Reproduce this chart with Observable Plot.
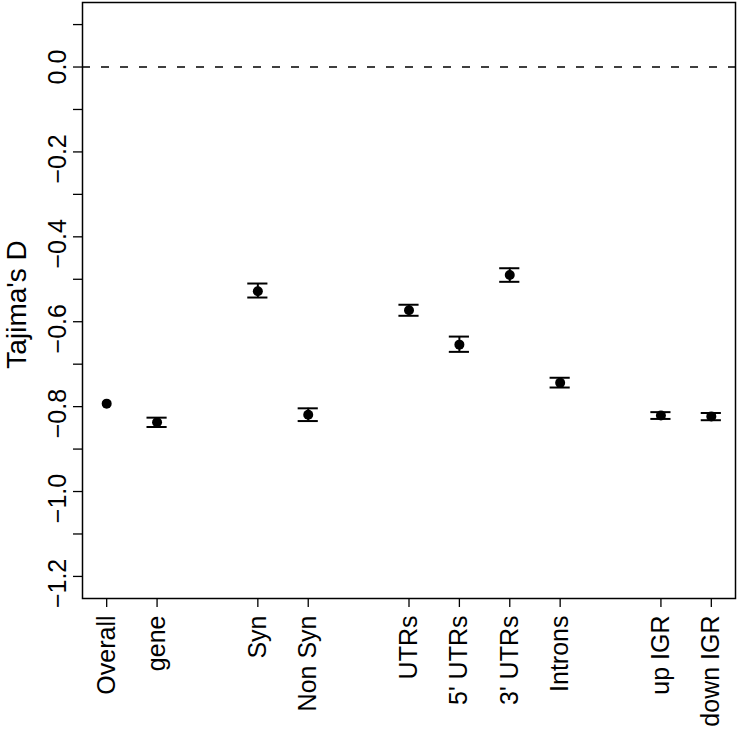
<!DOCTYPE html>
<html>
<head>
<meta charset="utf-8">
<script src="https://cdn.jsdelivr.net/npm/d3@7"></script>
<script src="https://cdn.jsdelivr.net/npm/@observablehq/plot@0.6"></script>
<style>
  html, body { margin: 0; padding: 0; background: #fff; }
  #chart { width: 738px; height: 729px; }
</style>
</head>
<body>
<div id="chart"></div>
<script>
// ---- data ----
const categories = ["Overall", "gene", "Syn", "Non Syn", "UTRs", "5' UTRs", "3' UTRs", "Introns", "up IGR", "down IGR"];
const positions  = [1, 2, 4, 5, 7, 8, 9, 10, 12, 13];
const means      = [-0.793, -0.837, -0.528, -0.819, -0.573, -0.654, -0.490, -0.744, -0.821, -0.823];
const lower      = [null, -0.848, -0.543, -0.834, -0.586, -0.671, -0.506, -0.755, -0.829, -0.832];
const upper      = [null, -0.826, -0.510, -0.804, -0.560, -0.635, -0.474, -0.732, -0.813, -0.815];
const yTicks      = [0.1, 0.0, -0.1, -0.2, -0.3, -0.4, -0.5, -0.6, -0.7, -0.8, -0.9, -1.0, -1.1, -1.2];
const yTickLabels = [0.0, -0.2, -0.4, -0.6, -0.8, -1.0, -1.2];
const yTitle = "Tajima's D";

const rows = categories.map((c, i) => ({cat: c, x: positions[i], mean: means[i], lo: lower[i], hi: upper[i]}));
const bars = rows.filter(d => d.lo != null);
const capHalf = 0.2; // half cap width in x units
const fmt = d3.format(".1f");

const chart = Plot.plot({
  width: 738,
  height: 729,
  marginLeft: 82,
  marginRight: 3,
  marginTop: 2,
  marginBottom: 131,
  style: {fontFamily: "'Liberation Sans', Arial, Helvetica, sans-serif", fontSize: "25px", background: "#fff", color: "#000"},
  x: {type: "linear", domain: [0.52, 13.48]},
  y: {domain: [-1.252, 0.152]},
  marks: [
    Plot.frame({stroke: "#000", strokeWidth: 1.5}),
    Plot.axisY({ticks: yTicks, tickSize: 9, tickFormat: () => "", label: null, strokeWidth: 1.3}),
    Plot.axisX({ticks: positions, tickSize: 9, tickFormat: () => "", label: null, strokeWidth: 1.3}),
    Plot.text(yTickLabels.filter(d => d >= 0), {y: d => d, text: d => fmt(d), frameAnchor: "left", dx: -25, rotate: -90, textAnchor: "middle", lineAnchor: "middle", fontSize: 25}),
    Plot.text(yTickLabels.filter(d => d < 0), {y: d => d, text: d => fmt(d), frameAnchor: "left", dx: -25, dy: 7, rotate: -90, textAnchor: "middle", lineAnchor: "middle", fontSize: 25}),
    Plot.text([yTitle], {y: -0.55, text: d => d, frameAnchor: "left", dx: -65, dy: 4, rotate: -90, textAnchor: "middle", lineAnchor: "middle", fontSize: 28}),
    Plot.text(rows, {x: "x", text: "cat", frameAnchor: "bottom", dy: 17, rotate: -90, textAnchor: "end", lineAnchor: "middle", fontSize: 25}),
    Plot.ruleY([0], {stroke: "#000", strokeWidth: 1.5, strokeDasharray: "8,11"}),
    Plot.ruleX(bars, {x: "x", y1: "lo", y2: "hi", stroke: "#000", strokeWidth: 2}),
    Plot.ruleY(bars, {y: "lo", x1: d => d.x - capHalf, x2: d => d.x + capHalf, stroke: "#000", strokeWidth: 2}),
    Plot.ruleY(bars, {y: "hi", x1: d => d.x - capHalf, x2: d => d.x + capHalf, stroke: "#000", strokeWidth: 2}),
    Plot.dot(rows, {x: "x", y: "mean", r: 5, fill: "#000", stroke: "none"})
  ]
});
document.getElementById("chart").appendChild(chart);
</script>
</body>
</html>
